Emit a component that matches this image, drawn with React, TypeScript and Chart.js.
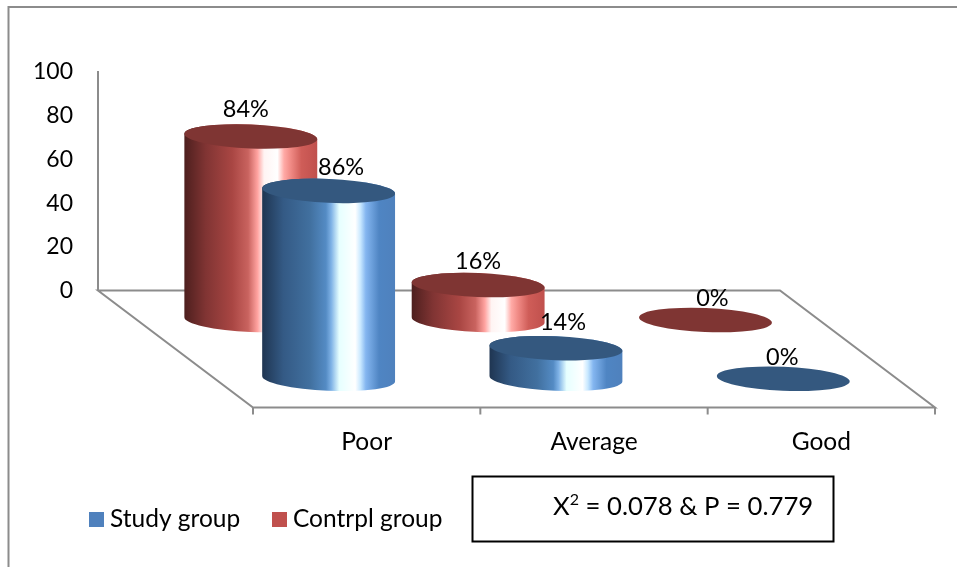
import React, { useEffect, useRef } from "react";
import { Chart, registerables } from "chart.js";

Chart.register(...registerables);

const categories = ["Poor", "Average", "Good"];
const studyGroup = [86, 14, 0];
const controlGroup = [84, 16, 0];
const yTicks = [0, 20, 40, 60, 80, 100];

const FONT = "Lato, Carlito, Calibri, sans-serif";
const AXIS_GRAY = "#8c8c8c";

// Oblique projection of the floor: how far its front edge sits from its back edge.
const FLOOR_DX = 155;
const FLOOR_DY = 117;
const TILT = 0.042;

const redStops: [number, string][] = [
  [0, "#4d1f1e"], [0.16, "#803433"], [0.36, "#a94643"], [0.48, "#c9635f"],
  [0.55, "#ffa3a0"], [0.6, "#fff4f3"], [0.7, "#ffffff"], [0.75, "#ffaaa6"],
  [0.8, "#f08a85"], [0.88, "#cf5d58"], [1, "#c0504d"],
];
const blueStops: [number, string][] = [
  [0, "#1f3551"], [0.16, "#345a85"], [0.36, "#41709f"], [0.48, "#548bc4"],
  [0.52, "#7fb2e6"], [0.58, "#e6ffff"], [0.7, "#ffffff"], [0.74, "#c8e8ff"],
  [0.78, "#84b6f0"], [0.88, "#4f85c3"], [1, "#4f81bd"],
];

const seriesStyles = [
  { depth: 0.7545, stops: blueStops, cap: "#34587f", swatch: "#4f81bd" },
  { depth: 0.2525, stops: redStops, cap: "#7f3533", swatch: "#c0504d" },
];

// Small shifts that keep each percentage label clear of its cylinder cap.
const labelShift: [number, number][][] = [
  [[12.5, -23], [7, -26], [-1, -21]],
  [[-5, -27], [0, -24], [7, -22]],
];

function swatch(color: string) {
  const c = document.createElement("canvas");
  c.width = 15;
  c.height = 15;
  const g = c.getContext("2d")!;
  g.fillStyle = color;
  g.fillRect(0, 0, 15, 15);
  return c;
}

function drawCylinder(ctx: CanvasRenderingContext2D, cx: number, top: number, base: number, rx: number, style: typeof seriesStyles[number]) {
  const ry = rx * 0.18;
  if (base - top > 0.5) {
    const grad = ctx.createLinearGradient(cx - rx, 0, cx + rx, 0);
    style.stops.forEach(([o, c]) => grad.addColorStop(o, c));
    ctx.beginPath();
    ctx.ellipse(cx, base, rx, ry, TILT, Math.PI, 0, true);
    ctx.ellipse(cx, top, rx, ry, TILT, 0, Math.PI, true);
    ctx.closePath();
    ctx.fillStyle = grad;
    ctx.fill();
  }
  ctx.beginPath();
  ctx.ellipse(cx, top, rx, ry, TILT, 0, Math.PI * 2);
  ctx.fillStyle = style.cap;
  ctx.fill();
}

const scenePlugin = {
  id: "scene3d",
  afterLayout(chart: any) {
    const legend = chart.legend;
    legend.left = 95.25 - legend.options.labels.padding;
    legend.top = 507 - legend.options.labels.padding;
  },
  beforeDatasetsDraw(chart: any) {
    const { ctx, chartArea: a, scales } = chart;
    ctx.save();
    // outer chart frame
    ctx.strokeStyle = AXIS_GRAY;
    ctx.lineWidth = 2;
    ctx.beginPath();
    ctx.moveTo(8.5, 567);
    ctx.lineTo(8.5, 7);
    ctx.lineTo(957, 7);
    ctx.stroke();
    // floor parallelogram
    ctx.beginPath();
    ctx.moveTo(a.left, a.bottom);
    ctx.lineTo(a.right, a.bottom);
    ctx.lineTo(a.right + FLOOR_DX, a.bottom + FLOOR_DY);
    ctx.lineTo(a.left + FLOOR_DX, a.bottom + FLOOR_DY);
    ctx.closePath();
    ctx.stroke();
    // category separators along the front edge
    const step = a.width / categories.length;
    ctx.beginPath();
    for (let i = 0; i <= categories.length; i++) {
      const x = scales.x.getPixelForValue(0) - step / 2 + i * step + FLOOR_DX;
      ctx.moveTo(x, a.bottom + FLOOR_DY);
      ctx.lineTo(x, a.bottom + FLOOR_DY + 7);
    }
    ctx.stroke();
    ctx.restore();
  },
  afterDatasetsDraw(chart: any) {
    const { ctx } = chart;
    ctx.save();
    // rear series first so the front one overlaps it
    for (const i of [1, 0]) {
      const style = seriesStyles[i];
      chart.getDatasetMeta(i).data.forEach((bar: any) => {
        const { x, y, base, width } = bar.getProps(["x", "y", "base", "width"], true);
        const ox = style.depth * FLOOR_DX;
        const oy = style.depth * FLOOR_DY;
        drawCylinder(ctx, x + ox, y + oy, base + oy, width / 2, style);
      });
    }
    // value labels
    ctx.fillStyle = "#000";
    ctx.font = `23.5px ${FONT}`;
    ctx.textAlign = "center";
    ctx.textBaseline = "middle";
    for (const i of [1, 0]) {
      const style = seriesStyles[i];
      chart.getDatasetMeta(i).data.forEach((bar: any, k: number) => {
        const { x, y } = bar.getProps(["x", "y"], true);
        const [sx, sy] = labelShift[i][k];
        ctx.fillText(`${chart.data.datasets[i].data[k]}%`, x + style.depth * FLOOR_DX + sx, y + style.depth * FLOOR_DY + sy);
      });
    }
    // statistics box
    ctx.strokeStyle = "#000";
    ctx.lineWidth = 2;
    ctx.strokeRect(472.5, 476.5, 361, 65);
    ctx.textAlign = "left";
    ctx.textBaseline = "alphabetic";
    ctx.font = `25.7px ${FONT}`;
    ctx.fillText("X", 553, 515);
    const xw = ctx.measureText("X").width;
    ctx.font = `16px ${FONT}`;
    ctx.fillText("2", 553 + xw, 505);
    const sw = ctx.measureText("2").width;
    ctx.font = `25.7px ${FONT}`;
    ctx.fillText(" = 0.078 & P = 0.779", 553 + xw + sw, 515);
    ctx.restore();
  },
};

export default function App() {
  const ref = useRef<HTMLCanvasElement>(null);
  useEffect(() => {
    const chart = new Chart(ref.current!, {
      type: "bar",
      data: {
        labels: categories,
        datasets: [
          { label: "Study group", data: studyGroup, backgroundColor: "rgba(0,0,0,0)", grouped: false, barPercentage: 0.585, categoryPercentage: 1 },
          { label: "Contrpl group", data: controlGroup, backgroundColor: "rgba(0,0,0,0)", grouped: false, barPercentage: 0.585, categoryPercentage: 1 },
        ],
      },
      options: {
        responsive: false,
        animation: false,
        layout: { padding: { top: 72, right: 177, left: 0, bottom: 0 } },
        scales: {
          x: {
            grid: { display: false, drawTicks: true, tickLength: 134 },
            border: { display: false },
            ticks: {
              padding: 3,
              labelOffset: FLOOR_DX,
              autoSkip: false,
              maxRotation: 0,
              color: "#000",
              font: { family: FONT, size: 24.5 },
            },
            afterFit: (s: any) => { s.height = 204; },
          },
          y: {
            min: 0,
            max: 100,
            afterBuildTicks: (s: any) => { s.ticks = yTicks.map((value) => ({ value })); },
            grid: { display: false, drawTicks: false },
            border: { display: true, color: AXIS_GRAY, width: 2 },
            ticks: { padding: 25, color: "#000", font: { family: FONT, size: 23 } },
            afterFit: (s: any) => { s.width = 98; },
          },
        },
        plugins: {
          title: { display: false },
          tooltip: { enabled: false },
          legend: {
            position: "bottom",
            align: "start",
            labels: {
              usePointStyle: true,
              boxWidth: 2.5,
              padding: 38,
              color: "#000",
              font: { family: FONT, size: 24.5 },
              generateLabels: (c: any) =>
                c.data.datasets.map((d: any, i: number) => ({
                  text: d.label,
                  fontColor: "#000",
                  fillStyle: seriesStyles[i].swatch,
                  strokeStyle: seriesStyles[i].swatch,
                  lineWidth: 0,
                  pointStyle: swatch(seriesStyles[i].swatch),
                  datasetIndex: i,
                })),
            },
          },
        },
      },
      plugins: [scenePlugin],
    } as any);
    return () => chart.destroy();
  }, []);
  return (
    <div style={{ position: "absolute", left: 0, top: 0, width: 957, height: 567 }}>
      <canvas ref={ref} width={957} height={567} style={{ display: "block" }} />
    </div>
  );
}
